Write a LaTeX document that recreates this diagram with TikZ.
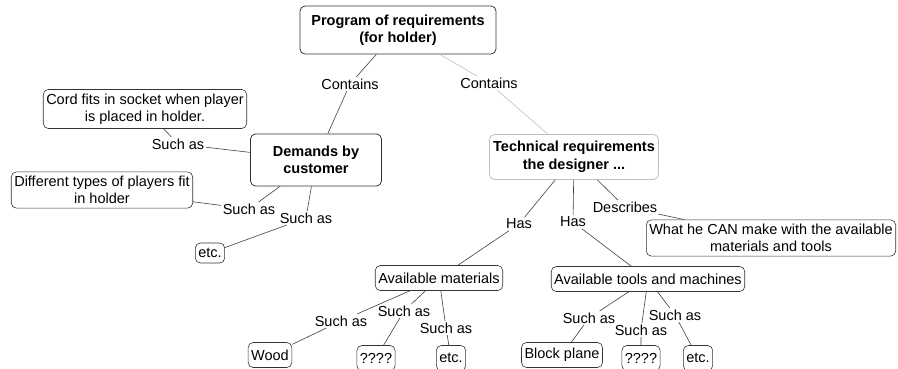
\documentclass[tikz,border=0pt]{standalone}
\usepackage{fontspec}
\setmainfont{Liberation Sans}
\usetikzlibrary{positioning}

\begin{document}
\begin{tikzpicture}[
  x=1pt, y=-1pt,
  box/.style={rectangle, draw=black!80, line width=0.6pt, rounded corners=5pt, align=center, inner xsep=3pt, inner ysep=4.5pt, minimum height=25pt, font=\fontsize{14.5}{16.5}\selectfont},
  headbox/.style={box, font=\fontsize{14.5}{17.5}\selectfont\bfseries, line width=0.8pt},
  link/.style={font=\fontsize{14.5}{16}\selectfont, inner sep=1.5pt},
  edge/.style={draw=black!75, line width=0.6pt},
  faint/.style={draw=black!25, line width=0.6pt},
]
\useasboundingbox (0,0) rectangle (898,368);

% === Main concepts ===
\node[headbox, minimum width=196pt, minimum height=48pt] (prog) at (398,30) {Program of requirements\\(for holder)};
\node[headbox, minimum width=131pt, minimum height=52pt] (cust) at (316,160) {Demands by\\customer};
\node[headbox, draw=black!25, minimum width=169pt, minimum height=45pt] (tech) at (574,157) {Technical requirements\\the designer ...};

% === Customer side ===
\node[box] (cord) at (145,109) {Cord fits in socket when player\\is placed in holder.};
\node[box] (types) at (102,190) {Different types of players fit\\in holder};
\node[box, minimum height=20pt] (etcA) at (210,253) {etc.};

% === Designer side ===
\node[box] (what) at (771,238) {What he CAN make with the available\\materials and tools};
\node[box] (mat) at (439,278) {Available materials};
\node[box] (tools) at (648,279) {Available tools and machines};
\node[box] (wood) at (270,355) {Wood};
\node[box] (qA) at (376,358) {????};
\node[box] (etcB) at (451,358) {etc.};
\node[box] (plane) at (562,355) {Block plane};
\node[box] (qB) at (641,358) {????};
\node[box] (etcC) at (698,358) {etc.};

% === Link words ===
\node[link] (contA) at (350,84) {Contains};
\node[link] (contB) at (489,83) {Contains};
\node[link] (suchA) at (178,144) {Such as};
\node[link] (suchB) at (249,209) {Such as};
\node[link] (suchC) at (306,218) {Such as};
\node[link] (hasA) at (519,224) {Has};
\node[link] (hasB) at (573,222) {Has};
\node[link] (descr) at (625,207) {Describes};
\node[link] (suchD) at (341,321) {Such as};
\node[link] (suchE) at (404,311) {Such as};
\node[link] (suchF) at (446,328) {Such as};
\node[link] (suchG) at (589,318) {Such as};
\node[link] (suchH) at (641,330) {Such as};
\node[link] (suchI) at (675,315) {Such as};

% === Connectors ===
\draw[edge] (prog) -- (contA) (contA) -- (cust);
\draw[faint] (prog) -- (contB) (contB) -- (tech);

\draw[edge] (cord) -- (suchA) (suchA) -- (cust);
\draw[edge] (types) -- (suchB) (suchB) -- (cust);
\draw[edge] (cust) -- (suchC) (suchC) -- (etcA);

\draw[edge] (tech) -- (hasA) (hasA) -- (mat);
\draw[edge] (tech) -- (hasB) (hasB) -- (tools);
\draw[edge] (tech) -- (descr) (descr) -- (what);

\draw[edge] (mat) -- (suchD) (suchD) -- (wood);
\draw[edge] (mat) -- (suchE) (suchE) -- (qA);
\draw[edge] (mat) -- (suchF) (suchF) -- (etcB);

\draw[edge] (tools) -- (suchG) (suchG) -- (plane);
\draw[edge] (tools) -- (suchH) (suchH) -- (qB);
\draw[edge] (tools) -- (suchI) (suchI) -- (etcC);

\end{tikzpicture}
\end{document}
